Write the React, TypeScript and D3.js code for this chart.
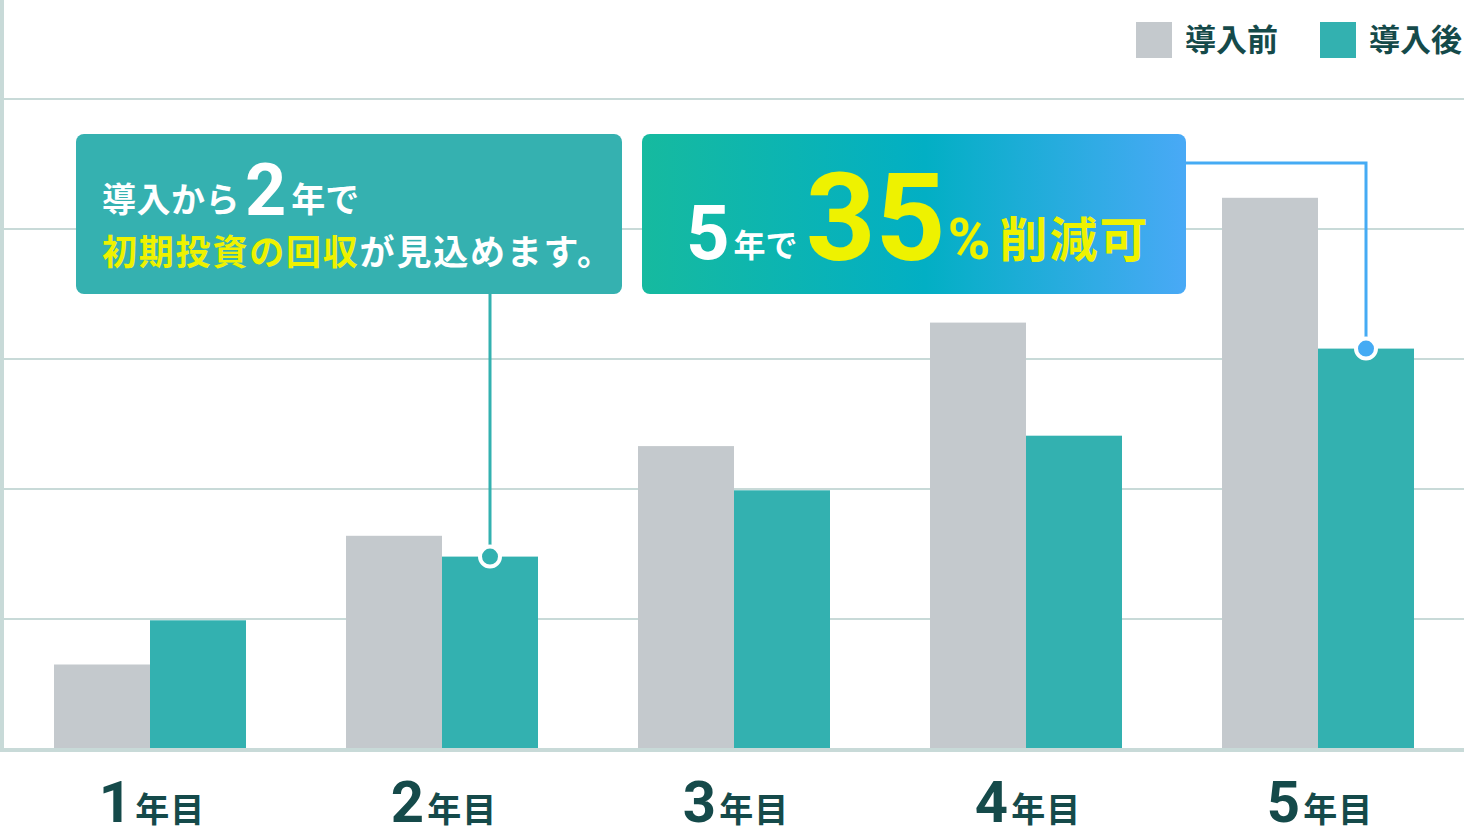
import { useEffect } from 'react';
import * as d3 from 'd3';

const years = ['1', '2', '3', '4', '5'];
const before = [65, 164, 233, 328, 424];
const after = [99, 148, 199, 241, 308];
const gridTicks = [100, 200, 300, 400, 500];
const legendItems = ['導入前', '導入後'];

const W = 1464;
const H = 838;
const GRAY = '#c4c9cd';
const TEAL = '#33b1b0';
const GRID = '#c8dad8';
const DARK = '#154a4a';
const YELLOW = '#eef200';
const BLUE = '#45abf4';
const JP = '"Noto Sans CJK JP", "Noto Sans", sans-serif';
const NUM = 'Roboto, "Noto Sans", sans-serif';

export default function App() {
  useEffect(() => {
    document.body.style.margin = '0';
  }, []);

  const x = d3.scaleBand<string>()
    .domain(years)
    .range([4, W])
    .paddingInner(100 / 292)
    .paddingOuter(50 / 292);

  const y = d3.scaleLinear().domain([0, 500]).range([749, 99]);
  const half = x.bandwidth() / 2;

  // callout anchors: teal bar of year 2 and year 5
  const dot2 = { x: (x('2') || 0) + half * 1.5, y: y(after[1]) };
  const dot5 = { x: (x('5') || 0) + half * 1.5, y: y(after[4]) };

  return (
    <svg width={W} height={H} style={{ display: 'block' }}>
      <defs>
        <linearGradient id="box-grad" x1="0" x2="1" y1="0" y2="0">
          <stop offset="0%" stopColor="#16ba9f" />
          <stop offset="52%" stopColor="#02afc4" />
          <stop offset="100%" stopColor="#49a9f6" />
        </linearGradient>
      </defs>

      {/* grid */}
      {gridTicks.map(t => (
        <line key={t} x1={4} x2={W} y1={y(t)} y2={y(t)} stroke={GRID} strokeWidth={2} />
      ))}
      <rect x={0} y={0} width={4} height={752} fill={GRID} />

      {/* bars */}
      {years.map((yr, i) => (
        <g key={yr}>
          <rect x={x(yr)} y={y(before[i])} width={half} height={y(0) - y(before[i])} fill={GRAY} />
          <rect x={(x(yr) || 0) + half} y={y(after[i])} width={half} height={y(0) - y(after[i])} fill={TEAL} />
        </g>
      ))}
      <rect x={0} y={748} width={W} height={4} fill={GRID} />

      {/* x labels */}
      {years.map(yr => (
        <text key={yr} x={(x(yr) || 0) + x.bandwidth() / 2 + 2} y={822} textAnchor="middle" fill={DARK} fontWeight={700}>
          <tspan fontFamily={NUM} fontSize={58}>{yr}</tspan>
          <tspan fontFamily={JP} fontSize={34} dx={3} letterSpacing={1}>年目</tspan>
        </text>
      ))}

      {/* legend */}
      {legendItems.map((label, i) => (
        <g key={label} transform={`translate(${1136 + i * 184}, 22)`}>
          <rect width={36} height={36} fill={i === 0 ? GRAY : TEAL} />
          <text x={49} y={29} fontFamily={JP} fontSize={31} fontWeight={700} fill={DARK}>{label}</text>
        </g>
      ))}

      {/* callout 1 */}
      <line x1={dot2.x} x2={dot2.x} y1={290} y2={dot2.y} stroke={TEAL} strokeWidth={3} />
      <rect x={76} y={134} width={546} height={160} rx={8} fill="#35b1b0" />
      <text x={102} y={212} fontFamily={JP} fontWeight={700} fill="#fff">
        <tspan fontSize={34} letterSpacing={0.5}>導入から</tspan>
        <tspan fontFamily={NUM} fontSize={72} y={215} dx={5}>2</tspan>
        <tspan fontSize={34} y={212} dx={5}>年で</tspan>
      </text>
      <text x={102} y={265} fontFamily={JP} fontWeight={700} fontSize={35} letterSpacing={1.8} fill="#fff">
        <tspan fill={YELLOW}>初期投資の回収</tspan>
        <tspan>が見込めます。</tspan>
      </text>
      <circle cx={dot2.x} cy={dot2.y} r={10} fill={TEAL} stroke="#fff" strokeWidth={4} />

      {/* callout 2 */}
      <polyline
        points={`1180,163 ${dot5.x},163 ${dot5.x},${dot5.y}`}
        fill="none"
        stroke={BLUE}
        strokeWidth={3}
      />
      <rect x={642} y={134} width={544} height={160} rx={8} fill="url(#box-grad)" />
      <text x={686} y={259} fontWeight={700}>
        <tspan fontFamily={NUM} fontSize={76} fill="#fff">5</tspan>
        <tspan fontFamily={JP} fontSize={32} fill="#fff" y={257} dx={4}>年で</tspan>
        <tspan fontFamily={NUM} fontSize={122} fill={YELLOW} y={260} dx={8}>35</tspan>
        <tspan fontFamily={NUM} fontSize={58} fill={YELLOW} y={259} dx={2}>%</tspan>
        <tspan fontFamily={JP} fontSize={48} fill={YELLOW} y={257} dx={9} letterSpacing={2}>削減可</tspan>
      </text>
      <circle cx={dot5.x} cy={dot5.y} r={10} fill={BLUE} stroke="#fff" strokeWidth={4} />
    </svg>
  );
}
